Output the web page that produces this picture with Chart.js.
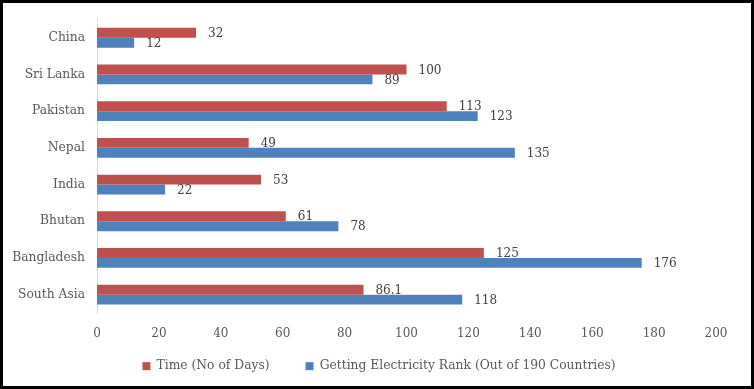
<!DOCTYPE html>
<html><head><meta charset="utf-8">
<script src="https://cdn.jsdelivr.net/npm/chart.js@4/dist/chart.umd.min.js"></script>
<style>html,body{margin:0;padding:0;background:#fff}#wrap{width:754px;height:389px;position:relative}</style>
</head><body><div id="wrap"><canvas id="c" width="754" height="389"></canvas></div>
<script>
const categories = ["China","Sri Lanka","Pakistan","Nepal","India","Bhutan","Bangladesh","South Asia"];
const timeDays = [32,100,113,49,53,61,125,86.1];
const electricityRank = [12,89,123,135,22,78,176,118];
const seriesNames = ["Time (No of Days)","Getting Electricity Rank (Out of 190 Countries)"];
const xTicks = [0,20,40,60,80,100,120,140,160,180,200];

const FONT = "DejaVu Serif";
const labelPlugin = {
  id:'vals',
  beforeLayout(chart){
    const lg = chart.legend;
    if (lg && !lg._patched){
      lg._patched = true;
      const of = lg.fit.bind(lg);
      lg.fit = function(){ of(); this.height = 35; };
      const od = lg._draw.bind(lg);
      lg._draw = function(){
        const ctx = chart.ctx;
        ctx.save(); ctx.translate(21,-24); od(); ctx.restore();
      };
    }
  },
  afterDatasetsDraw(chart){
    const ctx = chart.ctx;
    ctx.save();
    ctx.font = "12px '"+FONT+"'";
    ctx.fillStyle = "#404040";
    ctx.textBaseline = "middle";
    ctx.textAlign = "left";
    chart.data.datasets.forEach((ds,i)=>{
      const meta = chart.getDatasetMeta(i);
      meta.data.forEach((bar,j)=>{
        ctx.fillText(String(ds.data[j]), bar.x + 12, bar.y + 1);
      });
    });
    ctx.restore();
  }
};
const borderPlugin = {
  id:'frame',
  afterDraw(chart){
    const ctx = chart.ctx;
    ctx.save();
    ctx.strokeStyle = "#000";
    ctx.lineWidth = 3;
    ctx.strokeRect(1.5,1.5,chart.width-3,chart.height-3);
    ctx.restore();
  }
};
new Chart(document.getElementById('c'),{
  type:'bar',
  data:{labels:categories,datasets:[
    {label:seriesNames[0],data:timeDays,backgroundColor:'#C0504D',categoryPercentage:0.54,barPercentage:1},
    {label:seriesNames[1],data:electricityRank,backgroundColor:'#4F81BD',categoryPercentage:0.54,barPercentage:1}
  ]},
  options:{
    indexAxis:'y',responsive:false,animation:false,
    layout:{padding:{top:18,right:38,left:0,bottom:6}},
    scales:{
      x:{min:0,max:200,afterBuildTicks(s){s.ticks=xTicks.map(v=>({value:v}));},
        grid:{display:false,drawTicks:false},border:{display:false},
        ticks:{color:'#595959',font:{family:FONT,size:12},padding:14},
        afterFit(s){s.height=35;}},
      y:{grid:{display:false,drawTicks:false},border:{display:true,color:'#d9d9d9',width:1},
        ticks:{color:'#595959',font:{family:FONT,size:12.3},padding:12},
        afterFit(s){s.width=97;}}
    },
    plugins:{
      legend:{position:'bottom',labels:{boxWidth:8,boxHeight:8,color:'#595959',font:{family:FONT,size:12.3},padding:36}},
      tooltip:{enabled:false}
    }
  },
  plugins:[labelPlugin,borderPlugin]
});
</script></body></html>
